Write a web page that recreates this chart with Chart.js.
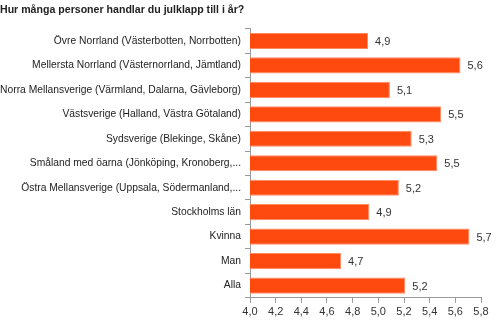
<!DOCTYPE html>
<html>
<head>
<meta charset="utf-8">
<script src="https://cdn.jsdelivr.net/npm/chart.js@4/dist/chart.umd.min.js"></script>
<style>
  html, body { margin: 0; padding: 0; background: #fff; }
  #wrap { position: relative; width: 500px; height: 327px; }
</style>
</head>
<body>
<div id="wrap"><canvas id="c" width="500" height="327"></canvas></div>
<script>
// Survey: average number of people each respondent buys Christmas gifts for
const titleText = 'Hur många personer handlar du julklapp till i år?';

const categories = [
  'Övre Norrland (Västerbotten, Norrbotten)',
  'Mellersta Norrland (Västernorrland, Jämtland)',
  'Norra Mellansverige (Värmland, Dalarna, Gävleborg)',
  'Västsverige (Halland, Västra Götaland)',
  'Sydsverige (Blekinge, Skåne)',
  'Småland med öarna (Jönköping, Kronoberg,...',
  'Östra Mellansverige (Uppsala, Södermanland,...',
  'Stockholms län',
  'Kvinna',
  'Man',
  'Alla'
];

const values = [4.92, 5.64, 5.09, 5.49, 5.26, 5.46, 5.16, 4.93, 5.71, 4.71, 5.21];

const axisMin = 4.0;
const axisMax = 5.8;
const axisStep = 0.2;

const fmt = v => v.toFixed(1).replace('.', ',');
const FONT = '"Liberation Sans", Arial, sans-serif';

// Writes each bar's value just past its end
const valueLabels = {
  id: 'valueLabels',
  afterDatasetsDraw(chart) {
    const ctx = chart.ctx;
    const meta = chart.getDatasetMeta(0);
    ctx.save();
    ctx.font = '11px ' + FONT;
    ctx.fillStyle = '#333';
    ctx.textAlign = 'left';
    ctx.textBaseline = 'middle';
    meta.data.forEach((bar, i) => {
      ctx.fillText(fmt(values[i]), bar.x + 7, bar.y + 1);
    });
    ctx.restore();
  }
};

new Chart(document.getElementById('c'), {
  type: 'bar',
  data: {
    labels: categories,
    datasets: [{
      data: values,
      backgroundColor: '#FF4A0F',
      borderColor: '#FF8A60',
      borderWidth: 1,
      borderSkipped: 'left',
      categoryPercentage: 1,
      barPercentage: 0.66
    }]
  },
  options: {
    indexAxis: 'y',
    responsive: false,
    animation: false,
    layout: { padding: { left: 0, right: 19, top: 0, bottom: 5 } },
    plugins: {
      legend: { display: false },
      tooltip: { enabled: false },
      title: {
        display: true,
        text: titleText,
        align: 'start',
        color: '#222',
        font: { family: FONT, size: 10.6, weight: 'bold' },
        padding: { top: 4, bottom: 12 }
      }
    },
    scales: {
      x: {
        min: axisMin,
        max: axisMax,
        border: { color: '#999', width: 1 },
        grid: { drawOnChartArea: false, drawTicks: true, tickLength: 5, color: '#999' },
        ticks: {
          stepSize: axisStep,
          color: '#333',
          padding: 3,
          font: { family: FONT, size: 11 },
          callback: v => fmt(v)
        }
      },
      y: {
        afterFit: (scale) => { scale.width = 250; },
        border: { color: '#999', width: 1 },
        grid: { drawOnChartArea: false, drawTicks: true, tickLength: 5, color: '#999', offset: true },
        ticks: {
          color: '#222',
          padding: 4,
          autoSkip: false,
          font: { family: FONT, size: 10.3 }
        }
      }
    }
  },
  plugins: [valueLabels]
});
</script>
</body>
</html>
